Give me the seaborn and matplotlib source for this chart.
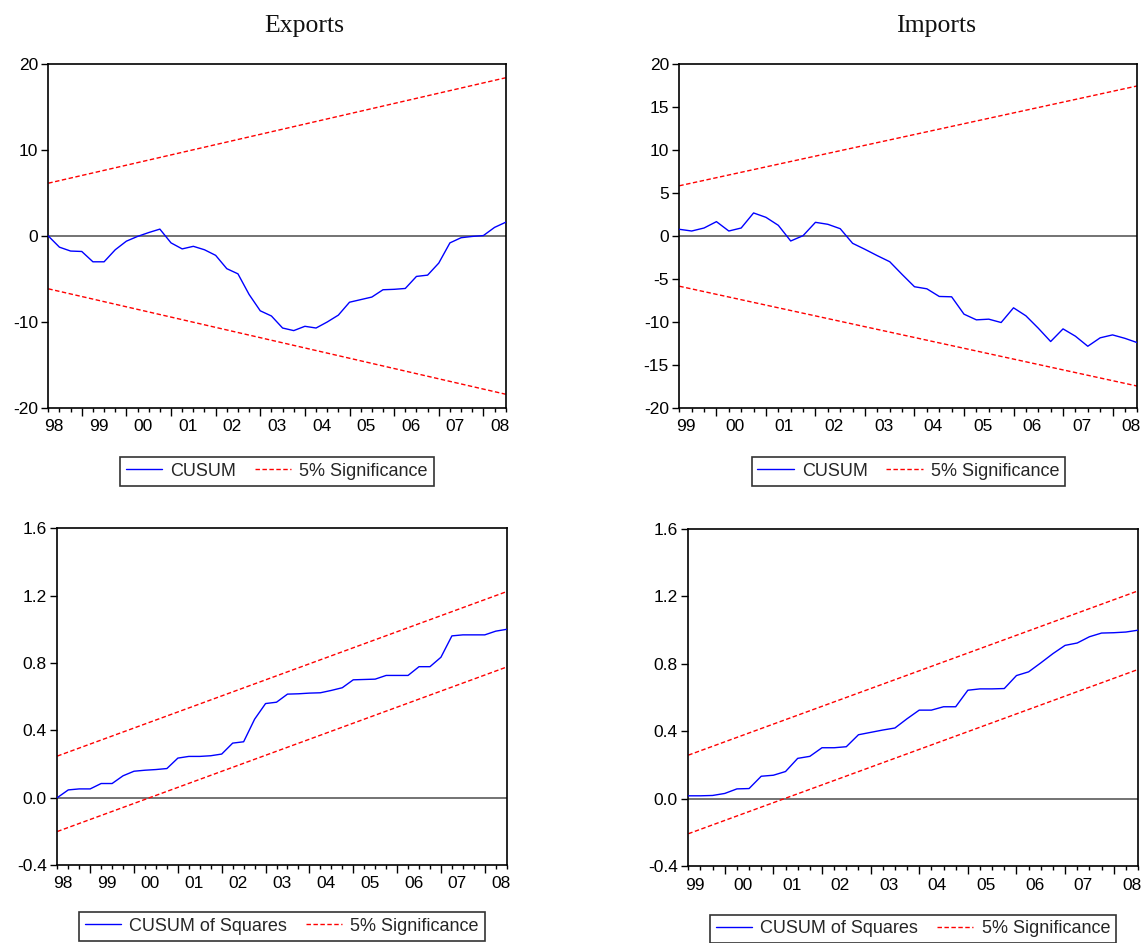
import numpy as np
import pandas as pd
import matplotlib
matplotlib.use("Agg")
import matplotlib.pyplot as plt
import seaborn as sns
from matplotlib.lines import Line2D

# ---------------- data ----------------
years_exp = ["98", "99", "00", "01", "02", "03", "04", "05", "06", "07", "08"]
years_imp = ["99", "00", "01", "02", "03", "04", "05", "06", "07", "08"]

# Exports CUSUM (quarterly, 98Q2 .. 08Q3)
cusum_exp = [0.0, -1.3, -1.75, -1.8, -3.0, -3.0, -1.6, -0.6, -0.05, 0.4, 0.8,
             -0.8, -1.5, -1.2, -1.6, -2.25, -3.8, -4.4, -6.8, -8.7, -9.3,
             -10.7, -11.0, -10.5, -10.7, -10.0, -9.2, -7.7, -7.4, -7.1, -6.25,
             -6.2, -6.1, -4.7, -4.55, -3.15, -0.8, -0.2, -0.05, 0.05, 1.0, 1.6]
cusum_exp_upper = [6.14, 18.4]
cusum_exp_lower = [-6.14, -18.4]

# Imports CUSUM (quarterly, 99Q2 .. 08Q3)
cusum_imp = [0.78, 0.58, 0.93, 1.67, 0.58, 0.93, 2.68, 2.17, 1.24, -0.58, 0.04,
             1.59, 1.36, 0.85, -0.85, -1.55, -2.29, -2.99, -4.47, -5.9, -6.14,
             -7.03, -7.07, -9.09, -9.75, -9.67, -10.06, -8.35, -9.28, -10.72,
             -12.27, -10.8, -11.65, -12.82, -11.84, -11.5, -11.9, -12.4]
cusum_imp_upper = [5.84, 17.45]
cusum_imp_lower = [-5.84, -17.45]

# Exports CUSUM of squares
cusumsq_exp = [0.0, 0.046, 0.052, 0.052, 0.084, 0.084, 0.13, 0.157, 0.163, 0.167,
               0.173, 0.235, 0.245, 0.245, 0.249, 0.259, 0.324, 0.332, 0.466,
               0.559, 0.567, 0.615, 0.617, 0.621, 0.623, 0.637, 0.653, 0.70,
               0.702, 0.704, 0.726, 0.726, 0.726, 0.778, 0.778, 0.834, 0.961,
               0.967, 0.967, 0.967, 0.989, 1.0]
cusumsq_exp_upper = [0.247, 1.224]
cusumsq_exp_lower = [-0.201, 0.776]

# Imports CUSUM of squares
cusumsq_imp = [0.018, 0.018, 0.02, 0.032, 0.059, 0.061, 0.134, 0.14, 0.162, 0.24,
               0.252, 0.303, 0.303, 0.309, 0.38, 0.394, 0.408, 0.42, 0.475, 0.526,
               0.526, 0.546, 0.546, 0.644, 0.652, 0.652, 0.654, 0.731, 0.753,
               0.806, 0.861, 0.91, 0.924, 0.961, 0.983, 0.985, 0.989, 1.0]
cusumsq_imp_upper = [0.259, 1.233]
cusumsq_imp_lower = [-0.207, 0.767]

yticks_cusum_exp = [-20, -10, 0, 10, 20]
yticks_cusum_imp = [-20, -15, -10, -5, 0, 5, 10, 15, 20]
yticks_sq = [-0.4, 0.0, 0.4, 0.8, 1.2, 1.6]

# ---------------- style ----------------
sns.set_theme(style="ticks")
plt.rcParams["font.family"] = ["Liberation Sans", "DejaVu Sans"]
plt.rcParams["axes.unicode_minus"] = False
plt.rcParams["axes.edgecolor"] = "black"

W, H = 1144, 943
fig = plt.figure(figsize=(W / 100, H / 100), dpi=100)
fig.patch.set_facecolor("white")

TICK_FS = 12.5
LEG_FS = 13


def px_axes(l, t, r, b):
    return fig.add_axes([l / W, 1 - b / H, (r - l) / W, (b - t) / H])


def panel(ax, series, upper, lower, ylim, yticks, yfmt, years, label, leg_y):
    n = len(series)
    x = np.arange(n)
    ax.axhline(0, color="#4d4d4d", lw=1.1, zorder=1)
    sns.lineplot(x=x, y=series, ax=ax, color="#0000FF", lw=1.0, zorder=3)
    ends = np.array([0, n - 1])
    for b in (upper, lower):
        sns.lineplot(x=ends, y=b, ax=ax, color="#FF0000", lw=1.0, zorder=2)
        ax.lines[-1].set_dashes((3.2, 1.8))
    ax.set_xlim(0, n - 1)
    ax.set_ylim(*ylim)
    ax.set_xlabel("")
    ax.set_ylabel("")
    # quarterly ticks: first observation is Q2 of the first year
    year_starts = [i for i in range(-1, n, 4) if 0 <= i <= n - 1]
    ax.set_xticks(year_starts)
    ax.set_xticks(x, minor=True)
    ax.tick_params(axis="x", which="major", length=5.8, width=1.0, color="black",
                   direction="out", labelbottom=False, bottom=True)
    ax.tick_params(axis="x", which="minor", length=3.2, width=1.0, color="black",
                   direction="out", bottom=True)
    sec = ax.secondary_xaxis("bottom")
    label_pos = [-1 + 4 * k + 1.5 for k in range(len(years))]
    sec.set_xticks(label_pos, labels=years)
    sec.tick_params(length=0, pad=8.2, labelsize=TICK_FS, labelcolor="black")
    sec.spines["bottom"].set_visible(False)
    ax.set_yticks(yticks)
    ax.set_yticklabels([yfmt(v) for v in yticks])
    ax.tick_params(axis="y", length=5, width=1.0, pad=2.5, labelsize=TICK_FS,
                   color="black", labelcolor="black", left=True)
    for s in ax.spines.values():
        s.set_visible(True)
        s.set_color("black")
        s.set_linewidth(1.2)
    ax.grid(False)
    handles = [Line2D([], [], color="#0000FF", lw=1.0),
               Line2D([], [], color="#FF0000", lw=1.0, dashes=(3.2, 1.8))]
    leg = ax.legend(handles, [label, "5% Significance"], loc="upper center",
                    bbox_to_anchor=(0.5, leg_y), ncol=2, frameon=True,
                    fancybox=False, framealpha=1, edgecolor="#333333",
                    borderaxespad=0, fontsize=LEG_FS, handlelength=2.0,
                    handletextpad=0.45, columnspacing=1.05, borderpad=0.32)
    leg.get_frame().set_linewidth(1.2)


fmt_int = lambda v: f"{int(v)}"
fmt_1 = lambda v: f"{v:.1f}"

ax1 = px_axes(48.3, 64, 505.7, 408)
panel(ax1, cusum_exp, cusum_exp_upper, cusum_exp_lower, (-20, 20),
      yticks_cusum_exp, fmt_int, years_exp, "CUSUM", -49 / 344)

ax2 = px_axes(679.3, 64, 1137.3, 408)
panel(ax2, cusum_imp, cusum_imp_upper, cusum_imp_lower, (-20, 20),
      yticks_cusum_imp, fmt_int, years_imp, "CUSUM", -49 / 344)

ax3 = px_axes(57.3, 528.3, 506.7, 865)
panel(ax3, cusumsq_exp, cusumsq_exp_upper, cusumsq_exp_lower, (-0.4, 1.6),
      yticks_sq, fmt_1, years_exp, "CUSUM of Squares", -47 / 336.7)

ax4 = px_axes(688.3, 529, 1138, 866.3)
panel(ax4, cusumsq_imp, cusumsq_imp_upper, cusumsq_imp_lower, (-0.4, 1.6),
      yticks_sq, fmt_1, years_imp, "CUSUM of Squares", -48.4 / 337.3)

fig.text(304 / W, 1 - 32 / H, "Exports", ha="center", va="baseline",
         fontsize=18.5, family=["Liberation Serif", "DejaVu Serif"], color="#111111")
fig.text(936 / W, 1 - 32 / H, "Imports", ha="center", va="baseline",
         fontsize=18.5, family=["Liberation Serif", "DejaVu Serif"], color="#111111")

fig.savefig("out.png", dpi=100, facecolor="white")
